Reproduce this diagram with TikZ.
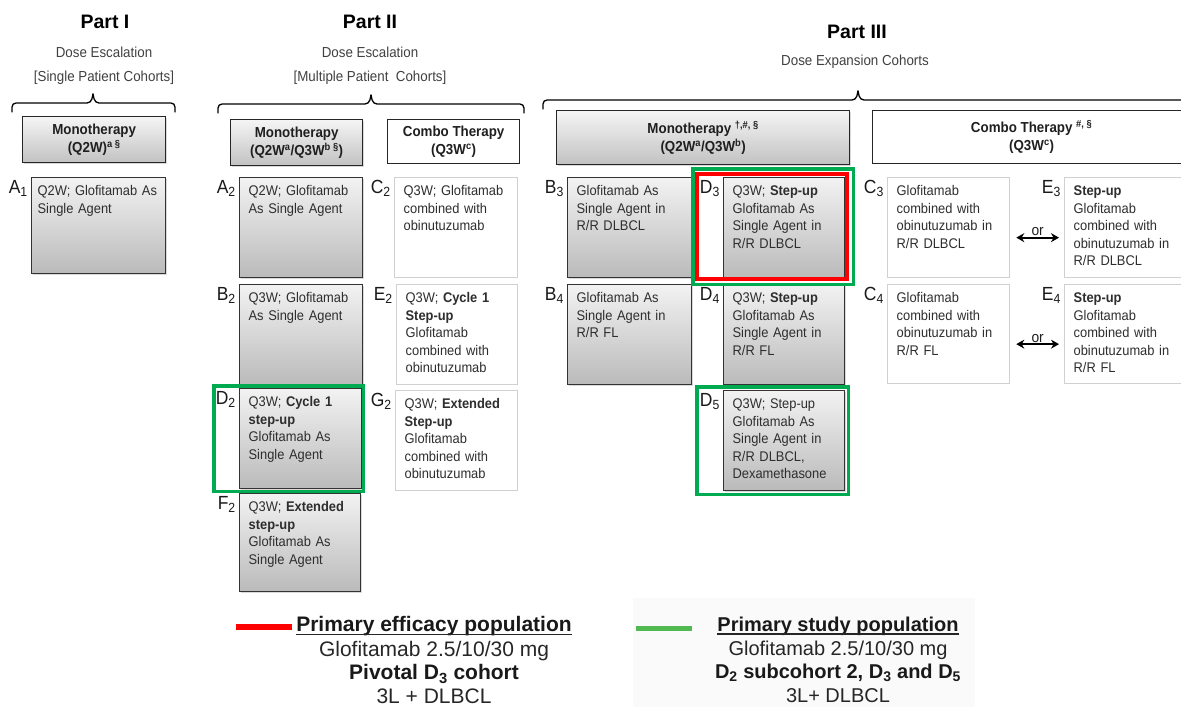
\documentclass[tikz,border=0pt]{standalone}
\usepackage{fontspec}
\setmainfont{Liberation Sans}
\newfontfamily\condfont{Liberation Sans}[FakeStretch=0.92]
\usetikzlibrary{calc}
\usetikzlibrary{positioning}
\usetikzlibrary{arrows.meta}
\usetikzlibrary{shadows}

\definecolor{framegreen}{RGB}{0,170,80}
\definecolor{keygreen}{RGB}{80,185,80}

\begin{document}
\begin{tikzpicture}[x=1pt,y=-1pt,
  every node/.style={inner sep=0pt,text=black!88},
  part/.style={font=\fontsize{19.5}{22}\selectfont\bfseries,text=black},
  sub/.style={font=\condfont\fontsize{14.5}{17}\selectfont,text=black!75},
  bracket/.style={line width=1.3pt,line cap=round,rounded corners=4pt},
  head/.style={draw=black!85,line width=1.3pt,anchor=north west,align=center,
    font=\condfont\fontsize{14.5}{18}\selectfont\bfseries},
  mono/.style={head,top color=black!4,bottom color=black!24,
    drop shadow={shadow xshift=1.5pt,shadow yshift=-1.5pt,opacity=.3}},
  combo/.style={head,fill=white},
  cohort/.style={anchor=north west,align=left,inner xsep=9pt,inner ysep=8pt,
    text width=105pt,text height=10pt,text depth=74pt,line width=1.3pt,
    font=\condfont\fontsize{14}{17.5}\selectfont,text=black!82},
  graybox/.style={cohort,draw=black!80,top color=black!5,bottom color=black!27,
    drop shadow={shadow xshift=1.5pt,shadow yshift=-1.5pt,opacity=.3}},
  whitebox/.style={cohort,draw=black!18,fill=white},
  lbl/.style={anchor=north east,font=\condfont\fontsize{19}{20}\selectfont,text=black!90},
  greenframe/.style={draw=framegreen,line width=3.5pt},
  redframe/.style={draw=red,line width=4pt},
  orarrow/.style={{Stealth[length=8pt,width=9pt]}-{Stealth[length=8pt,width=9pt]},line width=2pt},
  ortext/.style={above=1pt,font=\condfont\fontsize{15}{16}\selectfont},
  keyhead/.style={font=\bfseries\fontsize{21}{24}\selectfont,text=black!90},
  keytext/.style={font=\fontsize{21}{24}\selectfont,text=black!85},
  keyline/.style={line width=1.5pt,black!85},
]
\useasboundingbox (0,0) rectangle (1181,707);

% titles
\node[part] (part1) at (105,22) {Part I};
\node[sub] (esc1) at (104,52) {Dose Escalation};
\node[sub] (single) at (104,78) {[Single Patient Cohorts]};
\node[part] (part2) at (370,22) {Part II};
\node[sub] (esc2) at (370,52) {Dose Escalation};
\node[sub] (multi) at (370,78) {[Multiple Patient\ \ Cohorts]};
\node[part] (part3) at (857,32) {Part III};
\node[sub] (expand) at (855,62) {Dose Expansion Cohorts};

\foreach \bl/\bm/\br/\by in {12/93/175/103, 218/371/524/104, 543/858/1195/100} {
  \draw[bracket] (\bl,\by+9) -- (\bl,\by) -- (\bm-2,\by) -- (\bm,\by-9);
  \draw[bracket] (\br,\by+9) -- (\br,\by) -- (\bm+2,\by) -- (\bm,\by-9);
}

% headers
\node[mono,minimum width=143pt,minimum height=46pt] (mono1) at (22,116) {Monotherapy\\(Q2W)\textsuperscript{a §}};
\node[mono,minimum width=132pt,minimum height=46pt] (mono2) at (230,119) {Monotherapy\\(Q2W\textsuperscript{a}/Q3W\textsuperscript{b §})};
\node[combo,minimum width=132pt,minimum height=44pt] (combo2) at (387,119) {Combo Therapy\\(Q3W\textsuperscript{c})};
\node[mono,minimum width=293pt,minimum height=54pt] (mono3) at (556,110) {Monotherapy \textsuperscript{†,\#, §}\\(Q2W\textsuperscript{a}/Q3W\textsuperscript{b})};
\node[combo,minimum width=318pt,minimum height=53pt] (combo3) at (872,110) {Combo Therapy \textsuperscript{\#, §}\\(Q3W\textsuperscript{c})};

% part I
\node[graybox,inner xsep=6pt,text width=122pt,text depth=70pt] (A1) at (31,177) {Q2W; Glofitamab As\\Single Agent};

% part II
\node[graybox] (A2) at (239,177) {Q2W; Glofitamab\\As Single Agent};
\node[graybox] (B2) at (239,284) {Q3W; Glofitamab\\As Single Agent};
\node[graybox,text width=104pt] (D2) at (239,388) {Q3W; \textbf{Cycle 1}\\\textbf{step-up}\\Glofitamab As\\Single Agent};
\node[graybox,text width=103pt,text depth=72pt] (F2) at (239,493) {Q3W; \textbf{Extended}\\\textbf{step-up}\\Glofitamab As\\Single Agent};
\node[whitebox] (C2) at (394,177) {Q3W; Glofitamab\\combined with\\obinutuzumab};
\node[whitebox,text width=103pt] (E2) at (396,284) {Q3W; \textbf{Cycle 1}\\\textbf{Step-up}\\Glofitamab\\combined with\\obinutuzumab};
\node[whitebox,text width=104pt] (G2) at (395,390) {Q3W; \textbf{Extended}\\\textbf{Step-up}\\Glofitamab\\combined with\\obinutuzumab};

% part III
\node[graybox,text width=106pt] (B3) at (567,177) {Glofitamab As\\Single Agent in\\R/R DLBCL};
\node[graybox,text width=106pt] (B4) at (567,284) {Glofitamab As\\Single Agent in\\R/R FL};
\node[graybox,text width=103pt] (D3) at (723,177) {Q3W; \textbf{Step-up}\\Glofitamab As\\Single Agent in\\R/R DLBCL};
\node[graybox,text width=103pt] (D4) at (723,284) {Q3W; \textbf{Step-up}\\Glofitamab As\\Single Agent in\\R/R FL};
\node[graybox,text width=103pt] (D5) at (723,390) {Q3W; Step-up\\Glofitamab As\\Single Agent in\\R/R DLBCL,\\Dexamethasone};
\node[whitebox,text width=104pt] (C3) at (887,177) {Glofitamab\\combined with\\obinutuzumab in\\R/R DLBCL};
\node[whitebox,text width=104pt,text depth=73pt] (C4) at (887,284) {Glofitamab\\combined with\\obinutuzumab in\\R/R FL};
\node[whitebox,text width=112pt] (E3) at (1064,177) {\textbf{Step-up}\\Glofitamab\\combined with\\obinutuzumab in\\R/R DLBCL};
\node[whitebox,text width=112pt,text depth=73pt] (E4) at (1064,284) {\textbf{Step-up}\\Glofitamab\\combined with\\obinutuzumab in\\R/R FL};

\draw[orarrow] ($(C3.east)+(6,10)$) -- node[ortext] {or} ($(E3.west)+(-5,10)$);
\draw[orarrow] ($(C4.east)+(6,10)$) -- node[ortext] {or} ($(E4.west)+(-5,10)$);

% highlight frames
\draw[greenframe] ($(D2.north west)+(-25,-2)$) rectangle ($(D2.south east)+(1,2)$);
\draw[greenframe] ($(D3.north west)+(-30,-8)$) rectangle ($(D3.south east)+(8,6)$);
\draw[redframe] ($(D3.north west)+(-26,-3)$) rectangle ($(D3.south east)+(2,1)$);
\draw[greenframe] ($(D5.north west)+(-26,-3)$) rectangle ($(D5.south east)+(3,3)$);

\foreach \c/\l/\s in {A1/A/1, A2/A/2, B2/B/2, D2/D/2, F2/F/2, C2/C/2, E2/E/2, G2/G/2,
    B3/B/3, B4/B/4, D3/D/3, D4/D/4, D5/D/5, C3/C/3, C4/C/4, E3/E/3, E4/E/4}
  \node[lbl] (l\c) at ($(\c.north west)+(-3,3)$) {\l\textsubscript{\s}};

% legend
\fill[black!2] (633,598) rectangle (975,707);
\draw[red,line width=6pt] (236,627) -- (292,627);
\node[keyhead] (effhead) at (434,626) {Primary efficacy population};
\draw[keyline] ($(effhead.base west)+(0,3)$) -- ($(effhead.base east)+(0,3)$);
\node[keytext] (effdose) at (434,651) {Glofitamab 2.5/10/30 mg};
\node[keyhead] (effcohort) at (434,674) {Pivotal D\textsubscript{3} cohort};
\node[keytext] (effline) at (434,696) {3L + DLBCL};

\draw[keygreen,line width=5pt] (636,628) -- (692,628);
\node[keyhead,font=\bfseries\fontsize{20}{24}\selectfont] (studyhead) at (838,626) {Primary study population};
\draw[keyline] ($(studyhead.base west)+(0,3)$) -- ($(studyhead.base east)+(0,3)$);
\node[keytext,font=\fontsize{20}{24}\selectfont] (studydose) at (838,650) {Glofitamab 2.5/10/30 mg};
\node[keyhead,font=\bfseries\fontsize{20}{24}\selectfont] (studycohort) at (838,673) {D\textsubscript{2} subcohort 2, D\textsubscript{3} and D\textsubscript{5}};
\node[keytext,font=\fontsize{20}{24}\selectfont] (studyline) at (838,696) {3L+ DLBCL};
\end{tikzpicture}
\end{document}
